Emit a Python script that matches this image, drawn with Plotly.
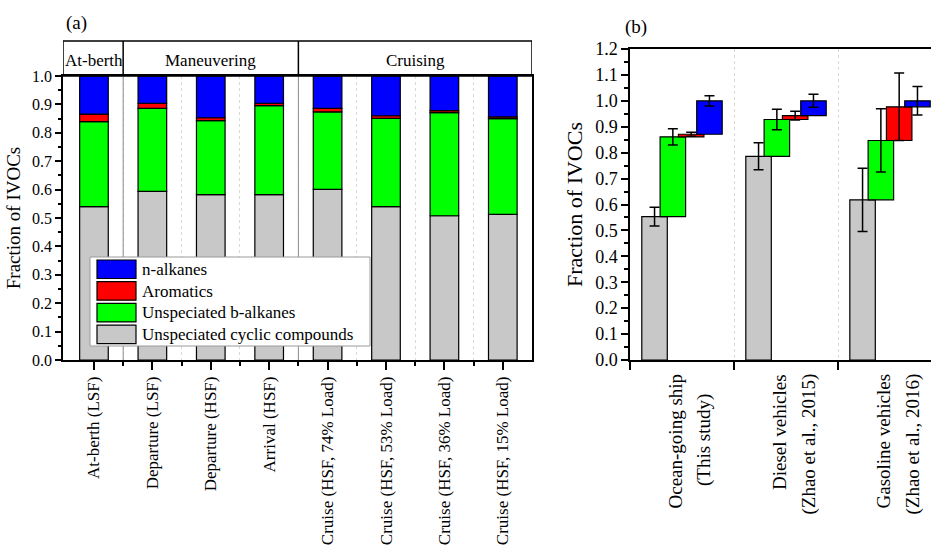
import numpy as np
import plotly.graph_objects as go

# ---------------- Data ----------------
# Panel (a)
cats_a = ["At-berth (LSF)", "Departure (LSF)", "Departure (HSF)", "Arrival (HSF)",
          "Cruise (HSF, 74% Load)", "Cruise (HSF, 53% Load)",
          "Cruise (HSF, 36% Load)", "Cruise (HSF, 15% Load)"]
groups_a = ["At-berth", "Maneuvering", "Cruising"]
group_sizes_a = [1, 3, 4]

components = ["Unspeciated cyclic compounds", "Unspeciated b-alkanes", "Aromatics", "n-alkanes"]
colors = ["#C8C8C8", "#00FF00", "#FF0000", "#0000FF"]

cyclic_a = [0.540, 0.594, 0.582, 0.582, 0.601, 0.540, 0.508, 0.513]
balk_a = [0.299, 0.292, 0.261, 0.314, 0.273, 0.311, 0.363, 0.337]
arom_a = [0.027, 0.018, 0.010, 0.008, 0.012, 0.009, 0.007, 0.006]
nalk_a = [0.134, 0.096, 0.147, 0.096, 0.114, 0.140, 0.122, 0.144]

# Panel (b)
cats_b_line1 = ["Ocean-going ship", "Diesel vehicles", "Gasoline vehicles"]
cats_b_line2 = ["(This study)", "(Zhao et al., 2015)", "(Zhao et al., 2016)"]
cyclic_b = [0.553, 0.786, 0.618]
balk_b = [0.308, 0.142, 0.229]
arom_b = [0.010, 0.015, 0.130]
nalk_b = [0.129, 0.057, 0.023]
cyclic_err = [0.036, 0.052, 0.122]
balk_err = [0.031, 0.040, 0.122]
arom_err = [0.008, 0.017, 0.130]
nalk_err = [0.020, 0.025, 0.055]

# ---------------- Layout helpers ----------------
W, H = 931, 545
FONT = "Liberation Serif, Times New Roman, serif"


def px_x(x):
    return x / W


def px_y(y):
    return (H - y) / H


fig = go.Figure()

# ---------------- Panel (a) ----------------
vals_a = [cyclic_a, balk_a, arom_a, nalk_a]
base_a = np.zeros(len(cats_a))
xa = np.arange(len(cats_a))
for name, col, v in zip(components, colors, vals_a):
    v = np.array(v)
    fig.add_trace(go.Bar(
        x=xa, y=v, base=base_a.copy(), width=0.49, name=name,
        marker=dict(color=col, line=dict(color="black", width=1.2)),
        xaxis="x", yaxis="y", showlegend=False))
    base_a = base_a + v

# ---------------- Panel (b) ----------------
vals_b = [cyclic_b, balk_b, arom_b, nalk_b]
errs_b = [cyclic_err, balk_err, arom_err, nalk_err]
offsets = [-0.264, -0.088, 0.088, 0.264]
base_b = np.zeros(len(cats_b_line1))
xb = np.arange(len(cats_b_line1))
for name, col, v, e, off in zip(components, colors, vals_b, errs_b, offsets):
    v = np.array(v)
    fig.add_trace(go.Bar(
        x=xb + off, y=v, base=base_b.copy(), width=0.245, name=name,
        marker=dict(color=col, line=dict(color="black", width=1.2)),
        error_y=dict(type="data", array=e, color="black", thickness=1.5, width=5),
        xaxis="x2", yaxis="y2", showlegend=False))
    base_b = base_b + v

xa_range = [-0.53, 7.5]
mid_a = [i + 0.5 for i in range(len(cats_a) - 1)]

axis_common = dict(showline=True, linecolor="black", linewidth=1.5,
                   zeroline=False, showgrid=False, automargin=False)

fig.update_layout(
    width=W, height=H,
    margin=dict(l=0, r=0, t=0, b=0, autoexpand=False),
    paper_bgcolor="white", plot_bgcolor="white",
    barmode="overlay",
    font=dict(family=FONT, color="black"),
    xaxis=dict(
        **axis_common,
        anchor="y",
        domain=[px_x(63), px_x(532)], range=xa_range,
        tickmode="array", tickvals=list(xa), ticktext=cats_a,
        tickfont=dict(family=FONT, size=17, color="black"),
        tickangle=-90, ticks="outside", ticklen=8, tickwidth=1.5, tickcolor="black",
        mirror=True,
        minor=dict(tickmode="array", tickvals=mid_a, ticks="outside", ticklen=4,
                   tickwidth=1.5, tickcolor="black",
                   showgrid=True, gridcolor="#d9d9d9", griddash="dot", gridwidth=1),
    ),
    yaxis=dict(
        **axis_common,
        anchor="x",
        domain=[px_y(360), px_y(76)], range=[0, 1.0],
        tickmode="linear", tick0=0, dtick=0.1, tickformat=".1f",
        tickfont=dict(family=FONT, size=16, color="black"),
        ticks="outside", ticklen=6, tickwidth=1.5, tickcolor="black",
        mirror=True,
        minor=dict(dtick=0.05, ticks="outside", ticklen=3, tickwidth=1.5, tickcolor="black"),
        title=dict(text="Fraction of IVOCs", font=dict(family=FONT, size=19, color="black"),
                   standoff=6),
    ),
    xaxis2=dict(
        **axis_common,
        anchor="y2",
        domain=[px_x(630), 1.0], range=[-0.5, 2.394],
        tickmode="array", tickvals=list(xb), showticklabels=False, ticks="",
        mirror=True,
        minor=dict(tickmode="array", tickvals=[i - 0.5 for i in range(len(xb) + 1)],
                   ticks="outside", ticklen=8, tickwidth=1.5, tickcolor="black",
                   showgrid=True, gridcolor="#d9d9d9", griddash="dot", gridwidth=1),
    ),
    yaxis2=dict(
        **axis_common,
        anchor="x2",
        domain=[px_y(360), px_y(49)], range=[0, 1.2],
        tickmode="linear", tick0=0, dtick=0.1, tickformat=".1f",
        tickfont=dict(family=FONT, size=18, color="black"),
        ticks="outside", ticklen=7, tickwidth=1.5, tickcolor="black",
        mirror=False,
        minor=dict(dtick=0.05, ticks="outside", ticklen=4, tickwidth=1.5, tickcolor="black"),
        title=dict(text="Fraction of IVOCs", font=dict(family=FONT, size=22, color="black"),
                   standoff=6),
    ),
)

shapes = []
annotations = []

# Group separators inside panel (a) and header boxes
bounds = list(np.cumsum(group_sizes_a)[:-1] - 0.5)
for b in bounds:
    shapes.append(dict(type="line", xref="x", yref="y", x0=b, x1=b, y0=0, y1=1,
                       line=dict(color="#8c8c8c", width=1)))
shapes.append(dict(type="rect", xref="x", yref="paper", x0=xa_range[0], x1=xa_range[1],
                   y0=px_y(76), y1=px_y(41), line=dict(color="black", width=1.5),
                   fillcolor="rgba(0,0,0,0)"))
for b in bounds:
    shapes.append(dict(type="line", xref="x", yref="paper", x0=b, x1=b,
                       y0=px_y(76), y1=px_y(41), line=dict(color="black", width=1.5)))
starts = np.concatenate([[0], np.cumsum(group_sizes_a)[:-1]])
for g, s, n in zip(groups_a, starts, group_sizes_a):
    annotations.append(dict(text=g, xref="x", yref="paper", x=s + (n - 1) / 2, y=px_y(60),
                            showarrow=False, font=dict(family=FONT, size=17, color="black"),
                            xanchor="center", yanchor="middle"))

# Custom legend for panel (a)
shapes.append(dict(type="rect", xref="paper", yref="paper", x0=px_x(90), x1=px_x(370),
                   y0=px_y(346), y1=px_y(257), line=dict(color="#9a9a9a", width=1),
                   fillcolor="white"))
leg_order = [3, 2, 1, 0]
for r, k in enumerate(leg_order):
    top = 260 + r * 21.7
    shapes.append(dict(type="rect", xref="paper", yref="paper", x0=px_x(97), x1=px_x(136),
                       y0=px_y(top + 18.5), y1=px_y(top), fillcolor=colors[k],
                       line=dict(color="black", width=1.2)))
    annotations.append(dict(text=components[k], xref="paper", yref="paper",
                            x=px_x(140), y=px_y(top + 9.5), showarrow=False,
                            xanchor="left", yanchor="middle",
                            font=dict(family=FONT, size=17, color="black")))

# Panel (b) category labels (two rotated lines each)
for i, (l1, l2) in enumerate(zip(cats_b_line1, cats_b_line2)):
    annotations.append(dict(text=l1, xref="x2", yref="paper", x=i, y=px_y(372),
                            xshift=-7, textangle=-90, showarrow=False,
                            xanchor="center", yanchor="top",
                            font=dict(family=FONT, size=19, color="black")))
    if i == 0:
        annotations.append(dict(text=l2, xref="x2", yref="paper", x=i, y=px_y(440),
                                xshift=22, textangle=-90, showarrow=False,
                                xanchor="center", yanchor="middle",
                                font=dict(family=FONT, size=19, color="black")))
    else:
        annotations.append(dict(text=l2, xref="x2", yref="paper", x=i, y=px_y(372),
                                xshift=22, textangle=-90, showarrow=False,
                                xanchor="center", yanchor="top",
                                font=dict(family=FONT, size=19, color="black")))

# Panel labels
annotations.append(dict(text="(a)", xref="paper", yref="paper", x=px_x(76), y=px_y(23),
                        xanchor="center", yanchor="middle",
                        showarrow=False, font=dict(family=FONT, size=19, color="black")))
annotations.append(dict(text="(b)", xref="paper", yref="paper", x=px_x(636), y=px_y(27),
                        xanchor="center", yanchor="middle",
                        showarrow=False, font=dict(family=FONT, size=19, color="black")))

fig.update_layout(shapes=shapes, annotations=annotations)
fig.write_html("out.html")
